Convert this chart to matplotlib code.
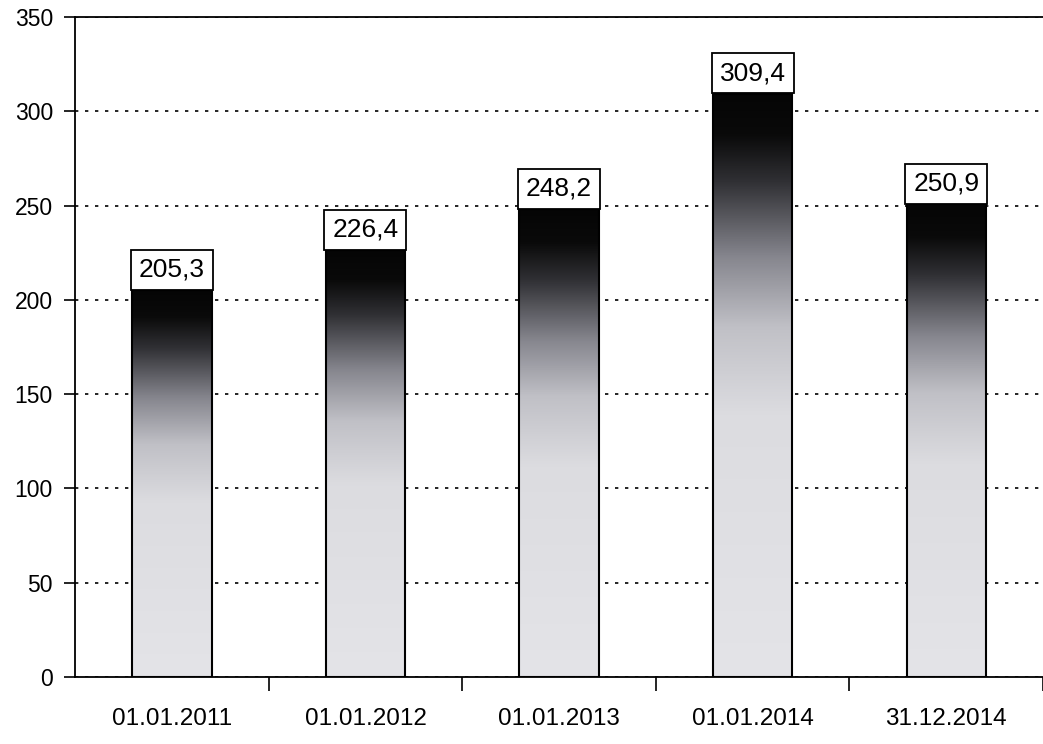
import numpy as np
import matplotlib.pyplot as plt
from matplotlib.colors import LinearSegmentedColormap

dates = ['01.01.2011', '01.01.2012', '01.01.2013', '01.01.2014', '31.12.2014']
values = [205.3, 226.4, 248.2, 309.4, 250.9]
labels = ['205,3', '226,4', '248,2', '309,4', '250,9']
yticks = [0, 50, 100, 150, 200, 250, 300, 350]

plt.rcParams['font.family'] = ['Liberation Sans', 'DejaVu Sans']

fig = plt.figure(figsize=(10.43, 7.44), dpi=100)
ax = fig.add_axes([0.072, 0.09, 0.928, 0.887])

# dark at the top, light grey over the lower half
cmap = LinearSegmentedColormap.from_list(
    'bar', [(0.0, '#e4e4e8'), (0.45, '#dcdce0'), (0.6, '#c0c0c6'),
            (0.72, '#86868e'), (0.85, '#303034'), (0.93, '#0a0a0a'),
            (1.0, '#050505')])
grad = np.linspace(0, 1, 256).reshape(-1, 1)

x = np.arange(len(dates))
width = 0.41
bars = ax.bar(x, values, width=width, color='none', edgecolor='black',
              linewidth=1.5, zorder=3)
for b in bars:
    x0, y0 = b.get_x(), b.get_y()
    im = ax.imshow(grad, cmap=cmap, origin='lower', aspect='auto',
                   extent=[x0, x0 + b.get_width(), y0, y0 + b.get_height()],
                   zorder=2)
    im.set_clip_path(b)

for xi, v, lab in zip(x, values, labels):
    ax.annotate(lab, (xi, v), xytext=(0, 6), textcoords='offset points',
                ha='center', va='bottom', fontsize=19, zorder=5,
                bbox=dict(boxstyle='square,pad=0.3', fc='white', ec='black', lw=1.3))

ax.set_xlim(-0.5, len(dates) - 0.5)
ax.set_ylim(0, 350)
ax.set_yticks(yticks)
ax.set_yticklabels([str(t) for t in yticks], fontsize=16.5)
ax.yaxis.grid(True, linestyle=(0, (2, 4)), color='black', linewidth=1.2, zorder=1)
ax.set_axisbelow(True)

ax.set_xticks(x)
ax.set_xticklabels(dates, fontsize=17.5)
ax.tick_params(axis='x', length=0, pad=22)
ax.set_xticks(np.arange(len(dates)) + 0.5, minor=True)
ax.tick_params(axis='x', which='minor', length=10, width=1.2, direction='out')
ax.tick_params(axis='y', length=8, width=1.2, direction='out', pad=8)

ax.spines['right'].set_visible(False)
for s in ['left', 'top', 'bottom']:
    ax.spines[s].set_linewidth(1.3)

fig.savefig('out.png', dpi=100)
